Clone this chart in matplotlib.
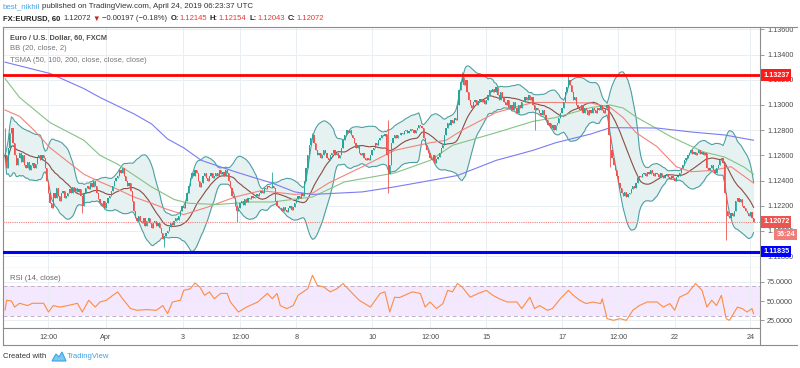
import numpy as np
import pandas as pd
import matplotlib
matplotlib.use("Agg")
import matplotlib.pyplot as plt
import matplotlib.transforms as mtransforms
from matplotlib.lines import Line2D
from matplotlib.patches import Polygon

plt.rcParams['font.family'] = ['Liberation Sans', 'DejaVu Sans']

# EUR/USD hourly closes, in pips above 1.1200
BASE = 1.12
close_pips = [
    60, 50, 66, 78, 82, 70, 60, 52, 58, 62, 55, 60,
    52, 50, 55, 48, 52, 54, 50, 53, 58, 60, 56, 60, 58,
    50, 40, 30, 22, 18, 30, 26, 34, 28, 24, 30, 32, 26, 28,
    30, 33, 30, 35, 32, 34, 31, 33, 28, 20, 30, 34,
    36, 33, 38, 35, 40, 36, 30, 25, 22, 20, 24, 18, 22, 26,
    28, 32, 36, 40, 42, 44, 48, 46, 50, 44, 40, 36, 38, 32,
    24, 16, 10, 8, 12, 8, 6, 10, 4, 8, 10, 6, 2, 6, 8, 4, 6,
    2, -2, -6, -4, -2, 0, 3, 6, 5, 8, 10, 9, 12, 16, 20, 18,
    24, 30, 36, 42, 46, 44, 48, 46, 40, 35, 38, 44, 46,
    42, 40, 44, 46, 42, 44, 46, 44, 48, 45, 47, 44, 48, 46,
    40, 34, 28, 26, 20, 16, 18, 22, 24, 21, 25, 23,
    26, 25, 28, 26, 27, 29, 28, 30, 32, 30, 34, 33, 36, 35, 34, 36, 34,
    24, 20, 18, 18, 16, 19, 17, 15, 18, 20, 17, 19,
    22, 25, 28, 26, 30, 28, 40, 50, 60, 68, 74, 76, 70,
    64, 60, 62, 58, 60, 64, 62, 58, 56, 60, 62, 64, 60, 62, 58, 60,
    66, 72, 76, 80, 78, 80, 76, 74, 70, 66, 68, 62, 60, 62, 58,
    56, 58, 56, 60, 64, 66, 70, 68, 72, 74, 76, 75, 77, 60, 45, 52,
    70, 74, 76, 74, 76, 76, 78, 77, 79, 80, 78, 79, 81, 80, 78, 80,
    82, 84, 83, 82, 74, 68, 64, 62, 58, 56, 60, 54, 57, 59, 62, 66, 68,
    76, 82, 86, 84, 88, 86, 90, 88, 100, 112, 118, 122, 116, 120, 110,
    104, 100, 98, 102, 104, 100, 103, 105, 102, 104, 101, 104,
    108, 112, 110, 113, 110, 114, 108, 104, 110, 106,
    102, 100, 104, 98, 100, 96, 102, 98, 94, 100, 98, 102,
    102, 106, 104, 108, 104, 106, 100, 96, 98, 96, 94, 92, 96, 92,
    88, 84, 86, 82, 84, 80, 84, 86, 90, 94, 98, 102, 110, 114, 120, 116,
    110, 104, 106, 100, 98, 96, 100, 94, 98, 96, 92, 96,
    94, 98, 96, 94, 98, 96, 100, 96, 94, 98, 100,
    76, 64, 58, 52, 48, 44, 38, 34, 30, 28, 31, 27, 29, 30,
    33, 36, 34, 38, 42, 44, 43, 45,
    46, 44, 47, 45, 48, 46, 44, 46, 45, 43, 46, 44, 42, 44, 45, 43, 41, 44, 42, 40, 43,
    44, 46, 50, 52, 56, 58, 60, 62, 64, 61, 63, 60, 62, 64, 61, 63, 60, 62,
    50, 48, 50, 52, 48, 46, 50, 52, 56, 58, 54,
    30, 16, 12, 10, 14, 12, 16, 24, 26, 23, 25,
    20, 18, 16, 14, 12, 15, 10, 7.2,
]
# long wicks that stand out (bar index -> pips)
wick_high = {0: 82, 166: 47, 191: 78, 238: 88, 284: 126, 350: 124}
wick_low = {48: 14, 99: -12.7, 144: 7, 238: 30, 329: 80, 376: 51, 448: -7}

# TSMA lines, sampled along the chart (bar index, pips)
sma50_idx = [0, 9, 18, 28, 39, 49, 59, 70, 80, 91, 101, 111, 126, 143, 159, 180, 191, 201,
             222, 242, 264, 274, 284, 305, 328, 342, 364, 376, 384, 392, 405, 417, 426, 439, 451, 465]
sma50_pips = [96, 91, 80, 66, 55, 45, 39, 33, 27, 22, 17, 13, 19, 27, 32, 29, 30, 38,
              51, 64, 70, 72, 80, 94, 102, 102, 101.6, 98, 90, 78, 67, 51, 47, 48, 51, 38]
sma100_idx = [0, 9, 28, 49, 59, 70, 91, 105, 114, 132, 153, 166, 191, 211, 242, 264, 278,
              305, 328, 342, 364, 376, 384, 392, 414, 434, 447, 459, 465]
sma100_pips = [121, 106, 86, 72, 60, 53, 35, 25, 22, 21, 23, 23, 27, 39, 46, 56, 68,
               78, 87, 90, 98, 100, 97.6, 90.5, 74.6, 62.7, 58.7, 50.8, 45]
sma200_idx = [0, 28, 49, 59, 80, 91, 101, 111, 122, 143, 153, 166, 180, 191, 222, 242, 264,
              281, 305, 328, 342, 364, 376, 405, 426, 447, 465]
sma200_pips = [134, 125, 113, 106, 93, 85, 73, 66, 56, 47, 43, 38, 31, 29, 31, 35, 40,
               44, 56, 64, 70, 77, 82, 81.7, 78.6, 76.2, 72]

# RSI (14, close), read along the lower pane (bar index, value)
rsi_idx = [0, 1, 4, 6, 9, 14, 17, 24, 27, 30, 34, 39, 45, 48, 52, 56, 59, 63, 67, 70,
           73, 78, 82, 88, 94, 98, 101, 104, 109, 111, 115, 118, 121, 124, 127, 130, 134,
           138, 140, 145, 150, 157, 163, 166, 169, 171, 175, 179, 182, 188, 191, 194, 198,
           202, 206, 210, 214, 220, 227, 233, 236, 239, 242, 245, 253, 258, 261, 264, 268,
           272, 275, 278, 281, 284, 289, 294, 299, 303, 307, 312, 318, 321, 326, 329, 332,
           337, 340, 345, 350, 353, 357, 361, 365, 370, 371, 374, 378, 382, 386, 390, 394,
           399, 405, 409, 413, 416, 419, 424, 429, 433, 436, 439, 442, 445, 448, 450, 455,
           458, 461, 464, 465]
rsi_vals = [38, 51, 50, 42, 47, 44, 47, 47, 35.5, 44, 42, 44, 47, 35.5, 51, 42, 48.7, 51, 57.5, 62,
            53, 40, 37.8, 38.7, 37.8, 44, 33.4, 48.7, 51, 64, 66, 73.7, 68.4, 57.5, 62, 53, 60,
            60, 48.7, 35.5, 42, 48.7, 60, 53, 60, 44, 40, 44, 57.5, 66, 83.8, 70.6, 68.4,
            62, 66, 73, 64, 51, 42, 60, 62, 35.5, 55, 54.5, 62, 60, 42, 48.7, 40,
            46.6, 64, 62, 73, 68.4, 55, 60, 64, 57.5, 53, 48.7, 48.7, 40, 55, 40, 44,
            37.8, 40, 53, 64, 57.5, 51, 46.6, 48.7, 46.6, 53, 26.8, 24.6, 26.8, 24.6, 37.8, 44,
            48.7, 48.7, 42, 46.6, 37.8, 55, 60, 73, 64, 42, 51, 44, 57.5, 26.8, 24.6, 42,
            40, 35.5, 40, 33.4]

resistance = 1.13237
support = 1.11835

tick_idx = [27, 62.5, 110.6, 146, 181, 228, 264, 299, 346, 381, 416, 463]
tick_lbl = ['12:00', 'Apr', '3', '12:00', '8', '10', '12:00', '15', '17', '12:00', '22', '24']

UP, DOWN = '#26a69a', '#ef5350'
TEAL = '#4d9fa3'
GRID = '#e9eef3'
FRAME = '#8c8c8c'
TXT = '#4a4a4a'

close = BASE + np.array(close_pips) / 1e4
n = len(close)
idx = np.arange(n)
opn = np.r_[close[0], close[:-1]]
high = np.maximum(opn, close)
low = np.minimum(opn, close)
for i, p in wick_high.items():
    high[i] = max(high[i], BASE + p / 1e4)
for i, p in wick_low.items():
    low[i] = min(low[i], BASE + p / 1e4)

s = pd.Series(close)
basis = s.rolling(20, min_periods=1).mean()
dev = s.rolling(20, min_periods=1).std(ddof=0)
upper, lower = basis + 2 * dev, basis - 2 * dev

W, H = 800, 368
fig = plt.figure(figsize=(8, 3.68), dpi=100)
ax = fig.add_axes([3 / W, 1 - 268 / H, 757 / W, 241 / H])
rx = fig.add_axes([3 / W, 1 - 328 / H, 757 / W, 60 / H], sharex=ax)

# main pane
ax.fill_between(idx, lower, upper, color='#e6f2f1', zorder=1, lw=0)
ax.plot(idx, upper, color=TEAL, lw=0.8, zorder=2)
ax.plot(idx, lower, color=TEAL, lw=0.8, zorder=2)
ax.plot(idx, basis, color='#8b4c43', lw=0.8, zorder=3)
ax.plot(sma50_idx, BASE + np.array(sma50_pips) / 1e4, color='#f4827c', lw=0.8, zorder=3)
ax.plot(sma100_idx, BASE + np.array(sma100_pips) / 1e4, color='#85c285', lw=0.8, zorder=3)
ax.plot(sma200_idx, BASE + np.array(sma200_pips) / 1e4, color='#7b7bf2', lw=0.8, zorder=3)

col = np.where(close >= opn, UP, DOWN)
ax.vlines(idx, low, high, colors=col, lw=0.6, zorder=4)
body_lo = np.minimum(opn, close)
body_h = np.maximum(np.abs(close - opn), 0.00003)
ax.bar(idx, body_h, bottom=body_lo, width=0.75, color=col, lw=0, zorder=5)

ax.axhline(resistance, color='#ff0000', lw=2, zorder=6)
ax.axhline(support, color='#0000ff', lw=2.2, zorder=6)
ax.axhline(close[-1], color='#f08080', lw=0.8, ls=(0, (1, 1)), zorder=6)

ax.set_xlim(-1.25, 469)
ax.set_ylim(1.11706, 1.13619)
ax.yaxis.tick_right()
yt = np.arange(1.118, 1.1361, 0.002)
ax.set_yticks(yt)
ax.set_yticklabels(['%.5f' % v for v in yt])
ax.tick_params(axis='y', labelsize=5.2, colors=FRAME, labelcolor=TXT, length=3, width=0.6, pad=2)
ax.tick_params(axis='x', length=0, labelbottom=False)
ax.set_xticks(tick_idx)
ax.grid(True, color=GRID, lw=0.7, zorder=0)
ax.set_axisbelow(True)

trans = mtransforms.blended_transform_factory(ax.transAxes, ax.transData)
tag = dict(transform=trans, ha='left', va='center', fontsize=5.2, color='white',
           fontweight='bold', clip_on=False, zorder=20)
ax.text(1.004, resistance, '1.13237', bbox=dict(boxstyle='square,pad=0.3', fc='#ff1a1a', ec='none'), **tag)
ax.text(1.004, close[-1], '%.5f' % close[-1], bbox=dict(boxstyle='square,pad=0.3', fc='#ef5350', ec='none'), **tag)
ax.text(1.004, support, '1.11835', bbox=dict(boxstyle='square,pad=0.3', fc='#0000ff', ec='none'), **tag)
tag['ha'] = 'right'
ax.text(1.0465, 1.11974, '36:24', bbox=dict(boxstyle='square,pad=0.3', fc='#f27c78', ec='none'), **tag)

# RSI pane
rx.fill_between([-1.25, 469], 30, 70, color='#f3e8fd', lw=0, zorder=0)
rx.axhline(70, color='#c3aecb', lw=0.7, ls=(0, (4, 3)), zorder=1)
rx.axhline(30, color='#c3aecb', lw=0.7, ls=(0, (4, 3)), zorder=1)
rx.plot(rsi_idx, rsi_vals, color='#ff8c42', lw=0.8, zorder=3)
rx.set_ylim(14.5, 93.4)
rx.yaxis.tick_right()
rx.set_yticks([25, 50, 75])
rx.set_yticklabels(['25.0000', '50.0000', '75.0000'])
rx.tick_params(axis='y', labelsize=5.2, colors=FRAME, labelcolor=TXT, length=3, width=0.6, pad=2)
rx.set_xticks(tick_idx)
rx.set_xticklabels(tick_lbl)
rx.tick_params(axis='x', labelsize=5.2, labelcolor=TXT, length=0, pad=4)
rx.grid(True, color=GRID, lw=0.7, zorder=0)
rx.set_axisbelow(True)

for a in (ax, rx):
    for sp in a.spines.values():
        sp.set_color(FRAME)
        sp.set_linewidth(0.8)
rx.spines['top'].set_visible(False)

# frame of the time scale strip
for xs, ys in [([3, 797], [345, 345]), ([3, 3], [328, 345]), ([760, 760], [328, 345]), ([760, 797], [27, 27])]:
    fig.add_artist(Line2D([x / W for x in xs], [1 - y / H for y in ys], color=FRAME, lw=0.8))


def row(parts, x0, y0, size):
    r = fig.canvas.get_renderer()
    x = x0
    for text, color, weight, gap in parts:
        t = fig.text(x / W, 1 - y0 / H, text, fontsize=size, color=color,
                     fontweight=weight, ha='left', va='center')
        x += t.get_window_extent(r).width + gap


row([('best_nikhil', '#4aa3df', 'normal', 2),
     ('published on TradingView.com, April 24, 2019 06:23:37 UTC', '#333333', 'normal', 0)], 3, 7, 5.7)
red = '#e53935'
row([('FX:EURUSD, 60', '#222222', 'bold', 3), ('1.12072', '#333333', 'normal', 2),
     ('\u25bc', '#c62828', 'normal', 2), ('\u22120.00197 (\u22120.18%)', '#333333', 'normal', 3),
     ('O:', '#222222', 'bold', 0.5), ('1.12145', red, 'normal', 3),
     ('H:', '#222222', 'bold', 0.5), ('1.12154', red, 'normal', 3),
     ('L:', '#222222', 'bold', 0.5), ('1.12043', red, 'normal', 3),
     ('C:', '#222222', 'bold', 0.5), ('1.12072', red, 'normal', 0)], 3, 19, 5.5)

row([('Euro / U.S. Dollar, 60, FXCM', '#505050', 'bold', 0)], 10, 38, 5.3)
row([('BB (20, close, 2)', '#777777', 'normal', 0)], 10, 49, 5.5)
row([('TSMA (50, 100, 200, close, close, close)', '#777777', 'normal', 0)], 10, 60, 5.5)
row([('RSI (14, close)', '#666666', 'normal', 0)], 10, 279, 5.5)

# footer
row([('Created with', '#333333', 'normal', 0)], 3, 357, 5.5)
logo = [(52, 361), (56, 354), (59, 357), (62, 352), (66, 361)]
fig.add_artist(Polygon([(x / W, 1 - y / H) for x, y in logo], closed=True,
                       fc='#7ec8f0', ec='#3ba3e6', lw=0.8))
row([('TradingView', '#3ba3e6', 'normal', 0)], 67, 357, 5.5)

fig.savefig('out.png', dpi=100, facecolor='white')
